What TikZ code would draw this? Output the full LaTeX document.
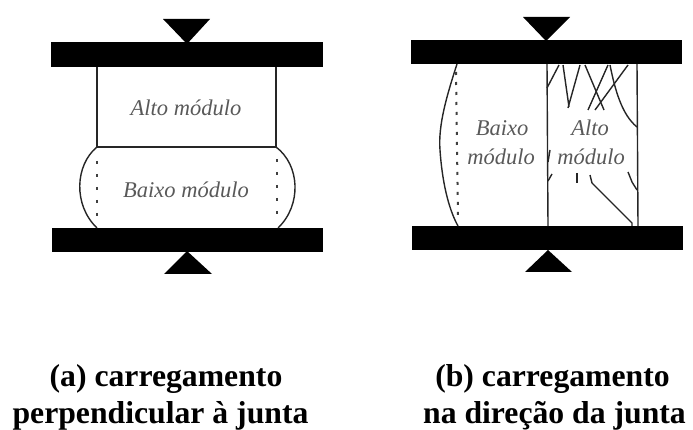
\documentclass[tikz,border=0pt]{standalone}
\usepackage{fontspec}
\setmainfont{Liberation Serif}
\usetikzlibrary{positioning}
\tikzset{
    platen/.style={fill=black, draw=none},
    loadmark/.style={fill=black, draw=none},
    edgeline/.style={line width=1.4pt, black!85},
    joint/.style={line width=2pt, dash pattern=on 3pt off 10pt, black!75},
    crack/.style={line width=1.4pt, black!85},
    matlabel/.style={font=\itshape\fontsize{22.5}{24}\selectfont, black!65, inner sep=0pt},
    caption/.style={font=\bfseries\fontsize{31.7}{37}\selectfont, anchor=base, inner sep=0pt}
}
\begin{document}
\begin{tikzpicture}[x=1pt,y=-1pt]
    \useasboundingbox (0,0) rectangle (693,430);
    %% Perpendicular load
    \fill[platen] (51,42) rectangle (323,67);
    \fill[platen] (52,228) rectangle (323,252);
    \fill[loadmark] (163,19) -- (210,19) -- (187,44) -- cycle;
    \fill[loadmark] (164,274) -- (212,274) -- (187,251) -- cycle;
    \draw[edgeline] (97,67) -- (97,147) -- (276,147) -- (276,67);
    \draw[edgeline] (97,147) .. controls (75,165) and (73,205) .. (97,228);
    \draw[edgeline] (276,147) .. controls (300,165) and (302,205) .. (278,228);
    \draw[joint] (97,161) -- (97,220);
    \draw[joint] (277,159) -- (277,220);
    \node[matlabel] (altoA) at (186,108) {Alto módulo};
    \node[matlabel] (baixoA) at (186,190) {Baixo módulo};
    \node[caption] (captionA) at (166,386) {(a) carregamento};
    \node[caption] (captionAA) at (160.5,423) {perpendicular à junta};

    %% Load along the joint
    \fill[platen] (411,40) rectangle (682,64);
    \fill[platen] (412,226) rectangle (683,250);
    \fill[loadmark] (523,17) -- (570,17) -- (546,41) -- cycle;
    \fill[loadmark] (525,272) -- (572,272) -- (548,250) -- cycle;
    \draw[edgeline] (547,64) -- (548,226);
    \draw[edgeline] (637,64) -- (638,226);
    \draw[edgeline] (457,64) .. controls (447,95) and (438,125) .. (440,150)
        .. controls (442,180) and (448,208) .. (458,226);
    \draw[joint, dash pattern=on 3pt off 7pt] (456,72) -- (458,220);
    \draw[crack] (559,65) -- (547,88);
    \draw[crack] (563,65) -- (569,107) (580,65) -- (568,108);
    \draw[crack] (585,65) -- (604,110);
    \draw[crack] (608,65) -- (588,110);
    \draw[crack] (628,65) -- (595,110);
    \draw[crack] (610,65) .. controls (615,90) and (622,115) .. (637,127);
    \draw[crack] (590,175) -- (592,183) -- (632,223) -- (632,226);
    \draw[crack] (577,173) -- (577,183);
    \draw[crack] (628,172) -- (632,182) -- (637,190);
    \draw[crack] (550,150) -- (548,162);
    \draw[crack] (552,174) -- (548,181);
    \node[matlabel] (baixoB) at (502,128) {Baixo};
    \node[matlabel] (moduloB) at (501,157) {módulo};
    \node[matlabel] (altoB) at (590,128) {Alto};
    \node[matlabel] (moduloC) at (591,157) {módulo};
    \node[caption] (captionB) at (552.5,386) {(b) carregamento};
    \node[caption] (captionBB) at (554.5,423) {na direção da junta};
\end{tikzpicture}
\end{document}
